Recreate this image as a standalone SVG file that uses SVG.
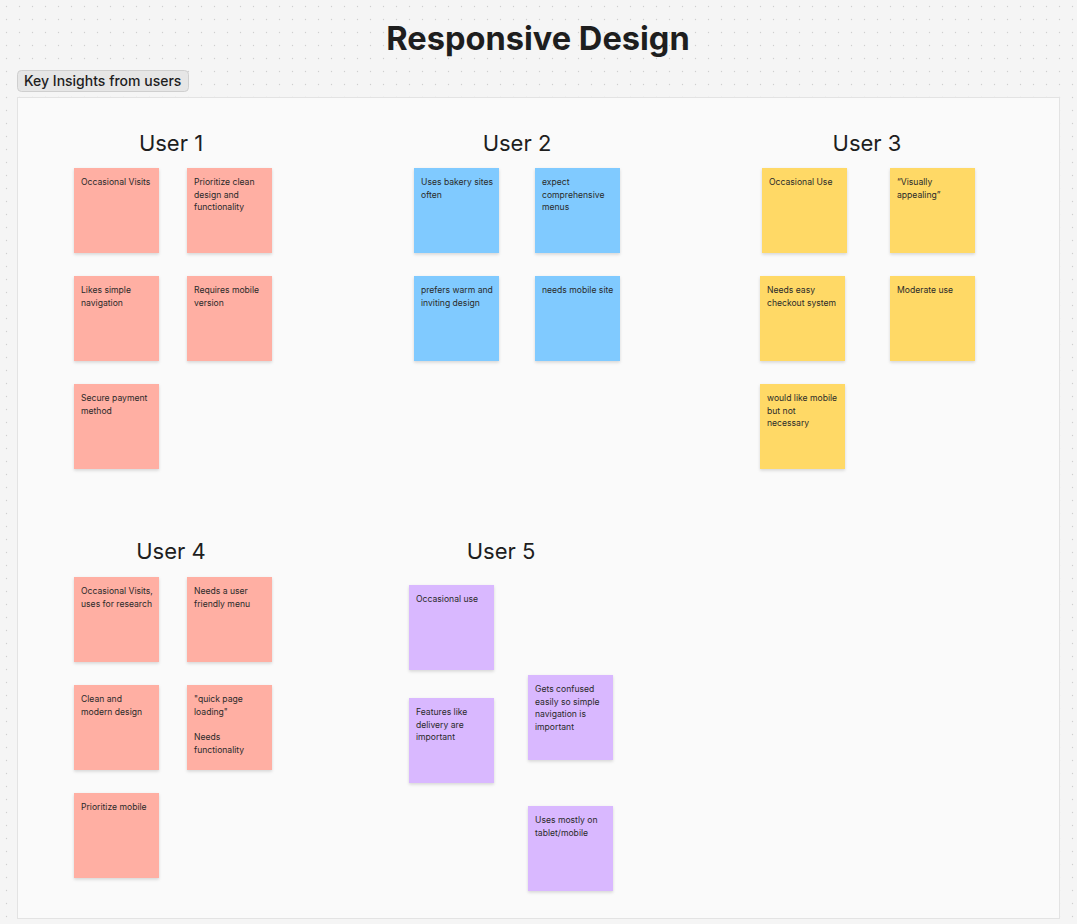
<svg xmlns="http://www.w3.org/2000/svg" width="1077" height="924" viewBox="0 0 1077 924">
<style>
.title{font-family:Inter,"Liberation Sans",sans-serif;font-weight:700;font-size:32.6px;fill:#1e1e1e}
.head{font-family:Inter,"Liberation Sans",sans-serif;font-size:22px;fill:#1e1e1e}
.t{font-family:Inter,"Liberation Sans",sans-serif;font-size:8.6px;fill:#2a2a2a}
.label{font-family:Inter,"Liberation Sans",sans-serif;font-size:14px;font-weight:500;fill:#1e1e1e}
.red{fill:#ffafa3}
.blue{fill:#80caff}
.yellow{fill:#ffd966}
.violet{fill:#d9b8ff}
</style>
<defs>
<pattern id="dots" width="13" height="13" patternUnits="userSpaceOnUse">
<circle cx="6.5" cy="6.5" r="0.7" fill="#cfcfcf"/>
</pattern>
<filter id="sh" x="-10%" y="-10%" width="130%" height="130%">
<feDropShadow dx="0" dy="1.5" stdDeviation="1.5" flood-color="#000" flood-opacity="0.15"/>
</filter>
</defs>
<rect width="1077" height="924" fill="#f5f5f5"/>
<rect width="1077" height="924" fill="url(#dots)"/>
<text class="title" x="538" y="50" text-anchor="middle">Responsive Design</text>
<g id="section">
<rect x="17.5" y="97.5" width="1042" height="821" fill="#fafafa" stroke="#e3e3e3"/>
<rect x="17.5" y="70.5" width="171" height="21" rx="4" fill="#e6e6e6" stroke="#cfcfcf"/>
<text class="label" x="24" y="86">Key Insights from users</text>
</g>
<g id="headings">
<text class="head" x="171" y="151" text-anchor="middle">User 1</text>
<text class="head" x="517" y="151" text-anchor="middle">User 2</text>
<text class="head" x="867" y="151" text-anchor="middle">User 3</text>
<text class="head" x="171" y="559" text-anchor="middle">User 4</text>
<text class="head" x="501" y="559" text-anchor="middle">User 5</text>
</g>
<g id="connectors"/>
<g id="user1">
<g id="u1n1"><rect class="red" x="74" y="168" width="85" height="85" filter="url(#sh)"/><text class="t" x="81" y="185">Occasional Visits</text></g>
<g id="u1n2"><rect class="red" x="187" y="168" width="85" height="85" filter="url(#sh)"/><text class="t" x="194" y="185"><tspan x="194">Prioritize clean</tspan><tspan x="194" dy="12.7">design and</tspan><tspan x="194" dy="12.7">functionality</tspan></text></g>
<g id="u1n3"><rect class="red" x="74" y="276" width="85" height="85" filter="url(#sh)"/><text class="t" x="81" y="293"><tspan x="81">Likes simple</tspan><tspan x="81" dy="12.7">navigation</tspan></text></g>
<g id="u1n4"><rect class="red" x="187" y="276" width="85" height="85" filter="url(#sh)"/><text class="t" x="194" y="293"><tspan x="194">Requires mobile</tspan><tspan x="194" dy="12.7">version</tspan></text></g>
<g id="u1n5"><rect class="red" x="74" y="384" width="85" height="85" filter="url(#sh)"/><text class="t" x="81" y="401"><tspan x="81">Secure payment</tspan><tspan x="81" dy="12.7">method</tspan></text></g>
</g>
<g id="user2">
<g id="u2n1"><rect class="blue" x="414" y="168" width="85" height="85" filter="url(#sh)"/><text class="t" x="421" y="185"><tspan x="421">Uses bakery sites</tspan><tspan x="421" dy="12.7">often</tspan></text></g>
<g id="u2n2"><rect class="blue" x="535" y="168" width="85" height="85" filter="url(#sh)"/><text class="t" x="542" y="185"><tspan x="542">expect</tspan><tspan x="542" dy="12.7">comprehensive</tspan><tspan x="542" dy="12.7">menus</tspan></text></g>
<g id="u2n3"><rect class="blue" x="414" y="276" width="85" height="85" filter="url(#sh)"/><text class="t" x="421" y="293"><tspan x="421">prefers warm and</tspan><tspan x="421" dy="12.7">inviting design</tspan></text></g>
<g id="u2n4"><rect class="blue" x="535" y="276" width="85" height="85" filter="url(#sh)"/><text class="t" x="542" y="293">needs mobile site</text></g>
</g>
<g id="user3">
<g id="u3n1"><rect class="yellow" x="762" y="168" width="85" height="85" filter="url(#sh)"/><text class="t" x="769" y="185">Occasional Use</text></g>
<g id="u3n2"><rect class="yellow" x="890" y="168" width="85" height="85" filter="url(#sh)"/><text class="t" x="897" y="185"><tspan x="897">“Visually</tspan><tspan x="897" dy="12.7">appealing”</tspan></text></g>
<g id="u3n3"><rect class="yellow" x="760" y="276" width="85" height="85" filter="url(#sh)"/><text class="t" x="767" y="293"><tspan x="767">Needs easy</tspan><tspan x="767" dy="12.7">checkout system</tspan></text></g>
<g id="u3n4"><rect class="yellow" x="890" y="276" width="85" height="85" filter="url(#sh)"/><text class="t" x="897" y="293">Moderate use</text></g>
<g id="u3n5"><rect class="yellow" x="760" y="384" width="85" height="85" filter="url(#sh)"/><text class="t" x="767" y="401"><tspan x="767">would like mobile</tspan><tspan x="767" dy="12.7">but not</tspan><tspan x="767" dy="12.7">necessary</tspan></text></g>
</g>
<g id="user4">
<g id="u4n1"><rect class="red" x="74" y="577" width="85" height="85" filter="url(#sh)"/><text class="t" x="81" y="594"><tspan x="81">Occasional Visits,</tspan><tspan x="81" dy="12.7">uses for research</tspan></text></g>
<g id="u4n2"><rect class="red" x="187" y="577" width="85" height="85" filter="url(#sh)"/><text class="t" x="194" y="594"><tspan x="194">Needs a user</tspan><tspan x="194" dy="12.7">friendly menu</tspan></text></g>
<g id="u4n3"><rect class="red" x="74" y="685" width="85" height="85" filter="url(#sh)"/><text class="t" x="81" y="702"><tspan x="81">Clean and</tspan><tspan x="81" dy="12.7">modern design</tspan></text></g>
<g id="u4n4"><rect class="red" x="187" y="685" width="85" height="85" filter="url(#sh)"/><text class="t" x="194" y="702"><tspan x="194">"quick page</tspan><tspan x="194" dy="12.7">loading"</tspan><tspan x="194" dy="25.4">Needs</tspan><tspan x="194" dy="12.7">functionality</tspan></text></g>
<g id="u4n5"><rect class="red" x="74" y="793" width="85" height="85" filter="url(#sh)"/><text class="t" x="81" y="810">Prioritize mobile</text></g>
</g>
<g id="user5">
<g id="u5n1"><rect class="violet" x="409" y="585" width="85" height="85" filter="url(#sh)"/><text class="t" x="416" y="602">Occasional use</text></g>
<g id="u5n2"><rect class="violet" x="409" y="698" width="85" height="85" filter="url(#sh)"/><text class="t" x="416" y="715"><tspan x="416">Features like</tspan><tspan x="416" dy="12.7">delivery are</tspan><tspan x="416" dy="12.7">important</tspan></text></g>
<g id="u5n3"><rect class="violet" x="528" y="675" width="85" height="85" filter="url(#sh)"/><text class="t" x="535" y="692"><tspan x="535">Gets confused</tspan><tspan x="535" dy="12.7">easily so simple</tspan><tspan x="535" dy="12.7">navigation is</tspan><tspan x="535" dy="12.7">important</tspan></text></g>
<g id="u5n4"><rect class="violet" x="528" y="806" width="85" height="85" filter="url(#sh)"/><text class="t" x="535" y="823"><tspan x="535">Uses mostly on</tspan><tspan x="535" dy="12.7">tablet/mobile</tspan></text></g>
</g>
</svg>
